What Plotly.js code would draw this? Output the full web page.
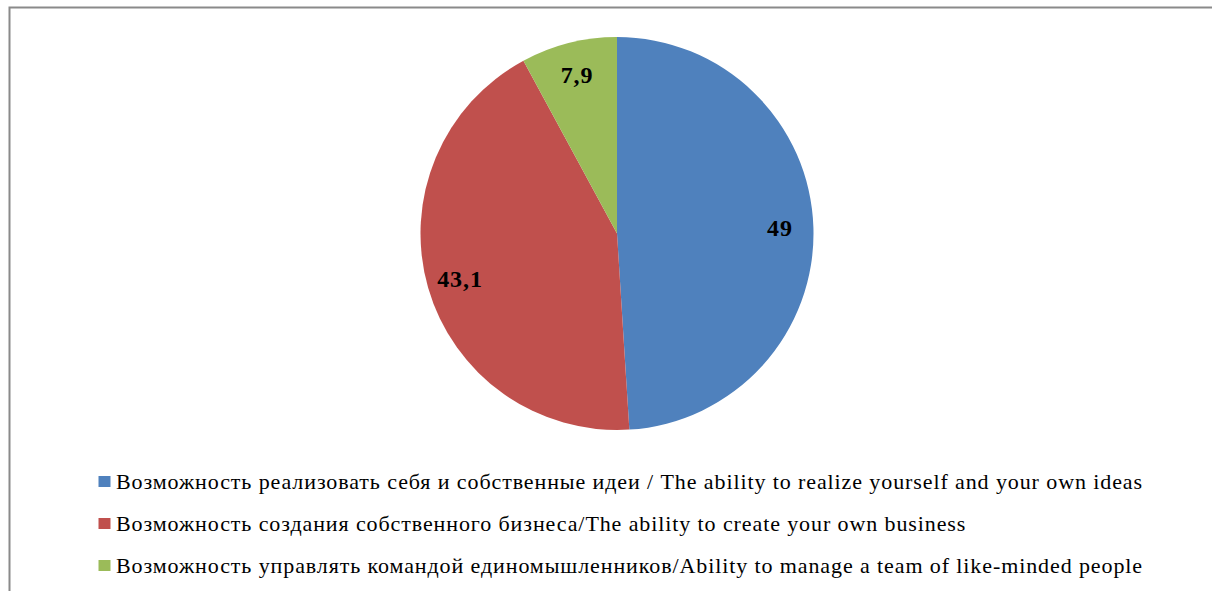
<!DOCTYPE html>
<html>
<head>
<meta charset="utf-8">
<script src="https://cdn.plot.ly/plotly-3.0.1.min.js"></script>
<style>
html,body{margin:0;padding:0;background:#fff;}
#chart{width:1212px;height:591px;}
#chart .annotation-text{letter-spacing:0.9px;}
</style>
</head>
<body>
<div id="chart"></div>
<script>
const categories = [
  "Возможность реализовать себя и собственные идеи / The ability to realize yourself and your own ideas",
  "Возможность создания собственного бизнеса/The ability to create your own business",
  "Возможность управлять командой единомышленников/Ability to manage a team of like-minded people"
];
const values = [49, 43.1, 7.9];
const valueLabels = ["49", "43,1", "7,9"];
const colors = ["#4F81BD", "#C0504D", "#9BBB59"];

const W = 1212, H = 591;
const cx = 617, cy = 233.5, r = 196.5;
const px = x => x / W;
const py = y => 1 - y / H;
const SERIF = "Liberation Serif";

const trace = {
  type: "pie",
  labels: categories,
  values: values,
  sort: false,
  direction: "clockwise",
  rotation: 0,
  textinfo: "none",
  hoverinfo: "label+value",
  marker: {colors: colors, line: {width: 0}},
  domain: {x: [px(cx - r), px(cx + r)], y: [py(cy + r), py(cy - r)]},
  showlegend: false
};

const annotations = [];
const shapes = [];
const total = values.reduce((a, b) => a + b, 0);
let cum = 0;
const f = 0.83;
values.forEach((v, i) => {
  const mid = (cum + v / 2) / total * 2 * Math.PI;
  cum += v;
  annotations.push({
    x: px(cx + r * f * Math.sin(mid)),
    y: py(cy - r * f * Math.cos(mid)),
    xref: "paper", yref: "paper",
    text: "<b>" + valueLabels[i] + "</b>", showarrow: false,
    xanchor: "center", yanchor: "middle",
    font: {family: SERIF, size: 24, color: "#000"}
  });
});
categories.forEach((c, i) => {
  const yc = 481.5 + i * 42;
  shapes.push({
    type: "rect", xref: "paper", yref: "paper",
    x0: px(98.5), x1: px(110.5), y0: py(yc + 5.5), y1: py(yc - 5.5),
    fillcolor: colors[i], line: {width: 0}
  });
  annotations.push({
    x: px(114), y: py(yc), xref: "paper", yref: "paper",
    text: c, showarrow: false, xanchor: "left", yanchor: "middle", align: "left",
    font: {family: SERIF, size: 22, color: "#000"}
  });
});
shapes.push({
  type: "rect", xref: "paper", yref: "paper",
  x0: px(9.5), x1: px(1230), y0: py(610), y1: py(7.5),
  line: {color: "#8a8a8a", width: 2}, fillcolor: "rgba(0,0,0,0)"
});

const layout = {
  width: W, height: H,
  margin: {l: 0, r: 0, t: 0, b: 0},
  paper_bgcolor: "#fff",
  showlegend: false,
  annotations: annotations,
  shapes: shapes
};
Plotly.newPlot("chart", [trace], layout, {displayModeBar: false, staticPlot: true});
</script>
</body>
</html>
